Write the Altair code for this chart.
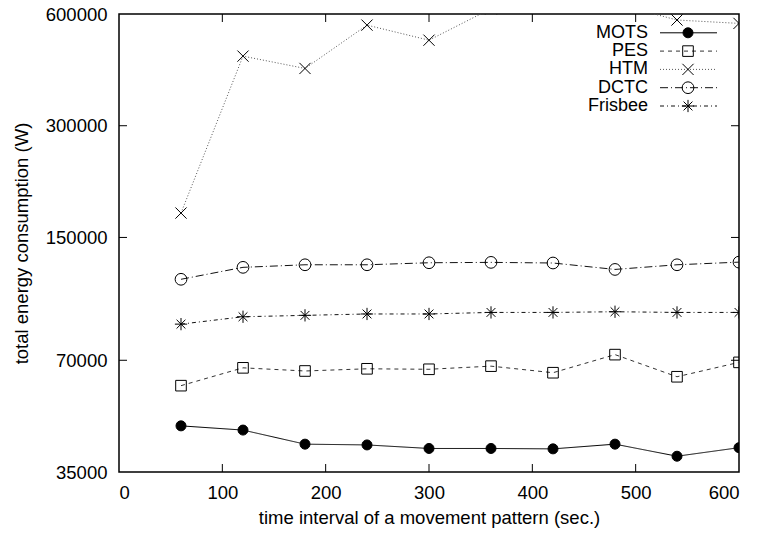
import altair as alt
import pandas as pd

# ---- data ----
x_vals = [60, 120, 180, 240, 300, 360, 420, 480, 540, 600]
mots = [46600, 45400, 41600, 41400, 40500, 40500, 40400, 41600, 38600, 40700]
pes = [59800, 66800, 65500, 66400, 66200, 67500, 64800, 72500, 63200, 69100]
htm = [174500, 462000, 428000, 560000, 510000, 620000, 650000, 640000, 578000, 566000]
dctc = [115700, 124600, 126600, 126600, 128200, 128500, 128000, 123000, 126600, 128700]
frisbee = [87600, 91700, 92500, 93300, 93300, 94200, 94200, 94600, 94200, 94200]

series_names = ["MOTS", "PES", "HTM", "DCTC", "Frisbee"]
y_ticks = [35000, 70000, 150000, 300000, 600000]
x_ticks = [0, 100, 200, 300, 400, 500, 600]

series_values = [mots, pes, htm, dctc, frisbee]
rows = []
for name, vals in zip(series_names, series_values):
    for xv, yv in zip(x_vals, vals):
        rows.append({"series": name, "x": xv, "y": yv})
df = pd.DataFrame(rows)

FONT = "Liberation Sans"
FS = 18.5
LFS = 18

xscale = alt.Scale(domain=[0, 600], nice=False)
yscale = alt.Scale(type="log", domain=[35000, 600000], nice=False)

xaxis = alt.Axis(values=x_ticks, format="d", ticks=False, tickSize=0, domain=False, grid=False,
                 labelFont=FONT, labelFontSize=FS, labelColor="black", labelPadding=26,
                 labelBaseline="alphabetic",
                 title="time interval of a movement pattern (sec.)",
                 titleFont=FONT, titleFontSize=FS, titleFontWeight="normal", titleColor="black",
                 titleBaseline="alphabetic", titleY=51)
yaxis = alt.Axis(values=y_ticks, format="d", ticks=False, tickSize=0, domain=False, grid=False,
                 labelFont=FONT, labelFontSize=FS, labelColor="black", labelPadding=12,
                 labelBaseline="middle",
                 title="total energy consumption (W)",
                 titleFont=FONT, titleFontSize=FS, titleFontWeight="normal", titleColor="black",
                 titleBaseline="alphabetic", titleX=-92, titleY=229, titleAngle=270, titleAlign="center")

X = alt.X("x:Q", scale=xscale, axis=xaxis)
Y = alt.Y("y:Q", scale=yscale, axis=yaxis)

X_PATH = "M-1,-1L1,1M-1,1L1,-1"
AST_PATH = "M-1,0L1,0M0,-1L0,1M-0.72,-0.72L0.72,0.72M-0.72,0.72L0.72,-0.72"

color_enc = alt.Color("series:N", scale=alt.Scale(domain=series_names,
                      range=["#000000", "#333333", "#555555", "#111111", "#111111"]), legend=None)
dash_enc = alt.StrokeDash("series:N", scale=alt.Scale(domain=series_names,
                          range=[[1, 0], [4, 4], [1, 2], [8, 3, 1, 3], [4, 3, 1, 3]]), legend=None)
shape_enc = alt.Shape("series:N", scale=alt.Scale(domain=series_names,
                      range=["circle", "square", X_PATH, "circle", AST_PATH]), legend=None)
fill_enc = alt.Fill("series:N", scale=alt.Scale(domain=series_names,
                    range=["#000000", "transparent", "transparent", "transparent", "transparent"]), legend=None)
size_enc = alt.Size("series:N", scale=alt.Scale(domain=series_names,
                    range=[100, 150, 144, 113, 144]), legend=None)

lines = alt.Chart(df).mark_line(clip=True, strokeWidth=1).encode(
    x=X, y=Y, color=color_enc, strokeDash=dash_enc, detail="series:N"
)
points = alt.Chart(df).mark_point(clip=True, stroke="black", strokeWidth=1, opacity=1).encode(
    x=X, y=Y, shape=shape_enc, fill=fill_enc, size=size_enc
)

# inward tick marks (mirrored on all four sides)
xt = pd.DataFrame({"x": x_ticks[1:-1]})
yt = pd.DataFrame({"y": y_ticks[1:-1]})
tick_x_bottom = alt.Chart(xt).mark_rule(color="black", strokeWidth=1).encode(
    x=X, y=alt.value(458), y2=alt.value(450))
tick_x_top = alt.Chart(xt).mark_rule(color="black", strokeWidth=1).encode(
    x=X, y=alt.value(0), y2=alt.value(8))
tick_y_left = alt.Chart(yt).mark_rule(color="black", strokeWidth=1).encode(
    y=Y, x=alt.value(0), x2=alt.value(8))
tick_y_right = alt.Chart(yt).mark_rule(color="black", strokeWidth=1).encode(
    y=Y, x=alt.value(620), x2=alt.value(612))

# legend (top-right inside the plot, gnuplot style)
leg = pd.DataFrame({"series": series_names, "idx": list(range(len(series_names)))})
leg_base = alt.Chart(leg).transform_calculate(py="18.8 + 18.3 * datum.idx")
leg_text = leg_base.mark_text(align="right", baseline="middle", font=FONT, fontSize=LFS, color="black").encode(
    x=alt.value(529), y=alt.Y("py:Q", scale=None), text="series:N")
leg_line = leg_base.mark_rule(strokeWidth=1).encode(
    x=alt.value(541), x2=alt.value(598), y=alt.Y("py:Q", scale=None),
    color=color_enc, strokeDash=dash_enc)
leg_pt = leg_base.mark_point(stroke="black", strokeWidth=1, opacity=1).encode(
    x=alt.value(569), y=alt.Y("py:Q", scale=None),
    shape=shape_enc, fill=fill_enc, size=size_enc)

chart = alt.layer(
    lines, points, tick_x_bottom, tick_x_top, tick_y_left, tick_y_right,
    leg_line, leg_pt, leg_text
).properties(
    width=620, height=458,
    autosize=alt.AutoSizeParams(type="none"),
    padding={"left": 111, "top": 6, "right": 13, "bottom": 56},
    background="white",
).configure_view(stroke="black", strokeWidth=1.5)

chart.save("out.html", embed_options={"renderer": "svg", "actions": False})
